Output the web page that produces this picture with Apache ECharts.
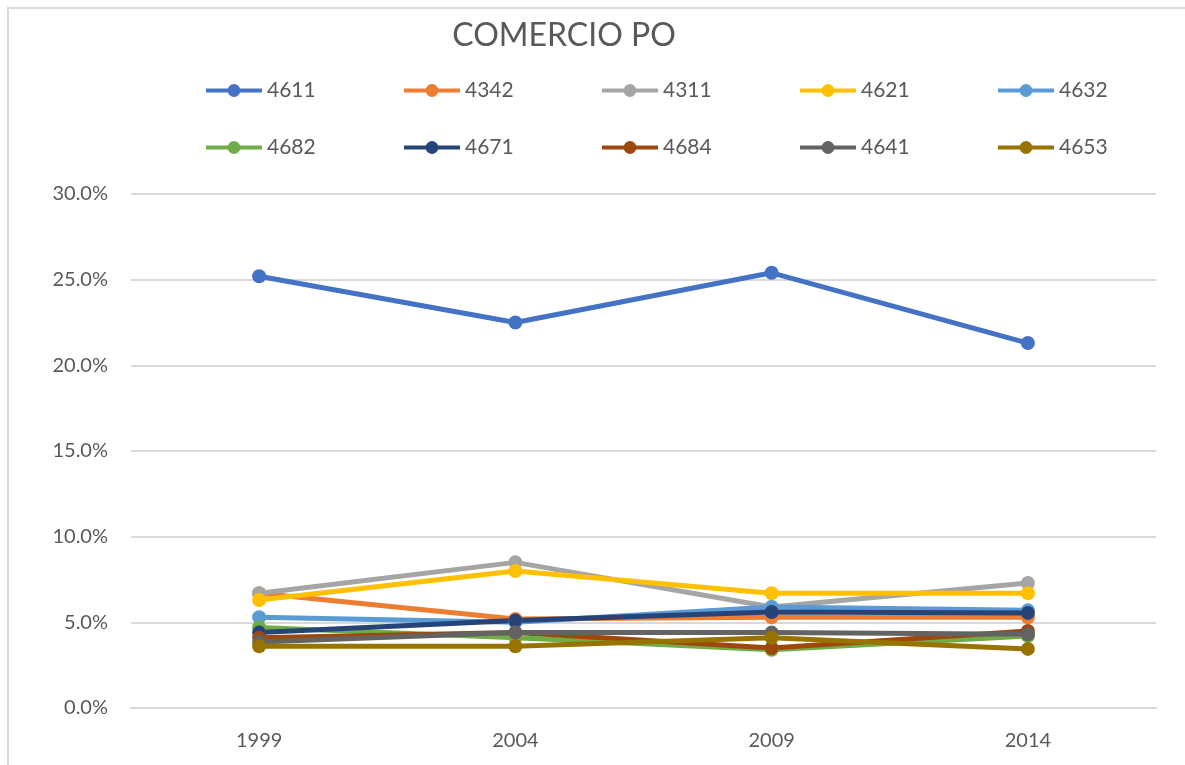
<!DOCTYPE html>
<html>
<head>
<meta charset="utf-8">
<script src="https://cdn.jsdelivr.net/npm/echarts@6/dist/echarts.min.js"></script>
<style>
  body { margin: 0; background: #fff; }
  #wrap { position: relative; width: 1185px; height: 765px; }
  #chart { width: 1185px; height: 765px; }
  #frame {
    position: absolute; left: 7px; top: 7px; right: 0; bottom: 0;
    border-left: 2px solid #d9d9d9; border-top: 2px solid #d9d9d9;
    pointer-events: none;
  }
</style>
</head>
<body>
<div id="wrap">
  <div id="chart"></div>
  <div id="frame"></div>
</div>
<script>
  // años y valores (%)
  const years = ['1999', '2004', '2009', '2014'];
  const yTicks = [0, 5, 10, 15, 20, 25, 30];

  const names = ['4611', '4342', '4311', '4621', '4632', '4682', '4671', '4684', '4641', '4653'];
  const colors = ['#4472C4', '#ED7D31', '#A5A5A5', '#FFC000', '#5B9BD5',
                  '#70AD47', '#264478', '#9E480E', '#636363', '#997300'];

  const s4611 = [25.2, 22.5, 25.4, 21.3];
  const s4342 = [6.7, 5.2, 5.3, 5.3];
  const s4311 = [6.7, 8.5, 5.9, 7.3];
  const s4621 = [6.3, 8.0, 6.7, 6.7];
  const s4632 = [5.3, 5.0, 5.9, 5.7];
  const s4682 = [4.7, 4.1, 3.4, 4.2];
  const s4671 = [4.4, 5.1, 5.6, 5.55];
  const s4684 = [4.1, 4.4, 3.5, 4.5];
  const s4641 = [3.85, 4.4, 4.4, 4.3];
  const s4653 = [3.6, 3.6, 4.1, 3.45];

  const values = [s4611, s4342, s4311, s4621, s4632, s4682, s4671, s4684, s4641, s4653];

  const font = 'Lato, "Open Sans", sans-serif';
  const grey = '#595959';

  const chart = echarts.init(document.getElementById('chart'));

  const legendBase = {
    left: 204,
    orient: 'horizontal',
    padding: 0,
    itemWidth: 56,
    itemHeight: 16,
    itemGap: 85,
    lineStyle: { width: 4 },
    textStyle: { fontFamily: font, fontSize: 21, color: grey, width: 50, lineHeight: 20 }
  };

  const option = {
    animation: false,
    title: {
      text: 'COMERCIO PO',
      left: 559,
      textAlign: 'center',
      top: 15,
      textStyle: { fontFamily: font, fontSize: 32, fontWeight: 'normal', color: grey }
    },
    legend: [
      Object.assign({}, legendBase, { top: 80, data: names.slice(0, 5) }),
      Object.assign({}, legendBase, { top: 137, data: names.slice(5) })
    ],
    grid: { left: 131, right: 29, top: 194, bottom: 57, containLabel: false },
    xAxis: {
      type: 'category',
      data: years,
      boundaryGap: true,
      axisTick: { show: false },
      axisLine: { lineStyle: { color: '#d9d9d9', width: 2 } },
      axisLabel: { fontFamily: font, fontSize: 20, color: grey, margin: 23 }
    },
    yAxis: {
      type: 'value',
      min: yTicks[0],
      max: yTicks[yTicks.length - 1],
      interval: yTicks[1] - yTicks[0],
      axisLine: { show: false },
      axisTick: { show: false },
      splitLine: { lineStyle: { color: '#d9d9d9', width: 2 } },
      axisLabel: {
        fontFamily: font, fontSize: 20, color: grey, margin: 23,
        formatter: v => v.toFixed(1) + '%'
      }
    },
    series: names.map((n, i) => ({
      name: n,
      type: 'line',
      data: values[i],
      symbol: 'circle',
      symbolSize: 14,
      lineStyle: { width: 5, color: colors[i] },
      itemStyle: { color: colors[i] },
      emphasis: { disabled: true }
    }))
  };

  chart.setOption(option);
</script>
</body>
</html>
